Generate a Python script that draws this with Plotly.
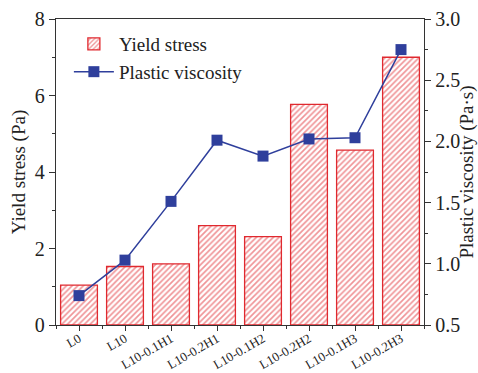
import plotly.graph_objects as go

categories = ["L0", "L10", "L10-0.1H1", "L10-0.2H1", "L10-0.1H2", "L10-0.2H2", "L10-0.1H3", "L10-0.2H3"]
yield_stress = [1.04, 1.53, 1.60, 2.60, 2.31, 5.77, 4.57, 7.00]
plastic_viscosity = [0.74, 1.03, 1.51, 2.01, 1.88, 2.02, 2.03, 2.75]

left_ticks = [0, 2, 4, 6, 8]
right_ticks = [0.5, 1.0, 1.5, 2.0, 2.5, 3.0]
right_tick_labels = ["0.5", "1.0", "1.5", "2.0", "2.5", "3.0"]

RED = "#E0292F"
BLUE = "#2F3F9C"
FONT = "Liberation Serif"

xpos = list(range(len(categories)))

fig = go.Figure()
fig.add_trace(go.Bar(
    x=xpos, y=yield_stress, name="Yield stress", yaxis="y",
    width=0.8,
    marker=dict(color="white", line=dict(color=RED, width=1.3),
                pattern=dict(shape="/", fgcolor=RED, bgcolor="white", size=4, solidity=0.42)),
))
fig.add_trace(go.Scatter(
    x=xpos, y=plastic_viscosity, name="Plastic viscosity", yaxis="y2",
    mode="lines+markers",
    line=dict(color=BLUE, width=1.5),
    marker=dict(symbol="square", size=11, color=BLUE),
))

fig.update_layout(
    width=478, height=373,
    margin=dict(l=56, r=54, t=19, b=48),
    paper_bgcolor="white", plot_bgcolor="white",
    font=dict(family=FONT, color="#222222", size=17),
    showlegend=True,
    legend=dict(x=0.035, y=0.98, xanchor="left", yanchor="top",
                bgcolor="rgba(0,0,0,0)", font=dict(size=19, family=FONT),
                itemwidth=40, tracegroupgap=0),
    xaxis=dict(
        range=[-0.5, 7.5], tickvals=xpos, ticktext=categories,
        showline=True, linecolor="#333", linewidth=1.3,
        mirror=True, ticks="outside", ticklen=5, tickcolor="#333",
        tickangle=-30, tickfont=dict(size=13, family=FONT), showgrid=False,
        ticklabelstandoff=-5,
        zeroline=False, automargin=False,
        minor=dict(ticks="outside", ticklen=3, tickcolor="#333", tick0=0.5, dtick=1, showgrid=False),
    ),
    yaxis=dict(
        range=[0, 8], tickvals=left_ticks, showline=True, linecolor="#333", linewidth=1.3,
        ticks="outside", ticklen=6, tickcolor="#333", showgrid=False, zeroline=False,
        tickfont=dict(size=20, family=FONT), automargin=False,
        title=dict(text="Yield stress (Pa)", font=dict(size=19, family=FONT), standoff=4),
        minor=dict(ticks="outside", ticklen=3, tickcolor="#333", dtick=1, showgrid=False),
    ),
    yaxis2=dict(
        range=[0.5, 3.0], tickvals=right_ticks, ticktext=right_tick_labels,
        overlaying="y", side="right", showline=True, linecolor="#333", linewidth=1.3,
        ticks="outside", ticklen=6, tickcolor="#333", showgrid=False, zeroline=False,
        tickfont=dict(size=20, family=FONT), automargin=False,
        title=dict(text="Plastic viscosity (Pa·s)", font=dict(size=19, family=FONT), standoff=4),
        minor=dict(ticks="outside", ticklen=3, tickcolor="#333", dtick=0.25, showgrid=False),
    ),
)

fig.write_html("out.html")
